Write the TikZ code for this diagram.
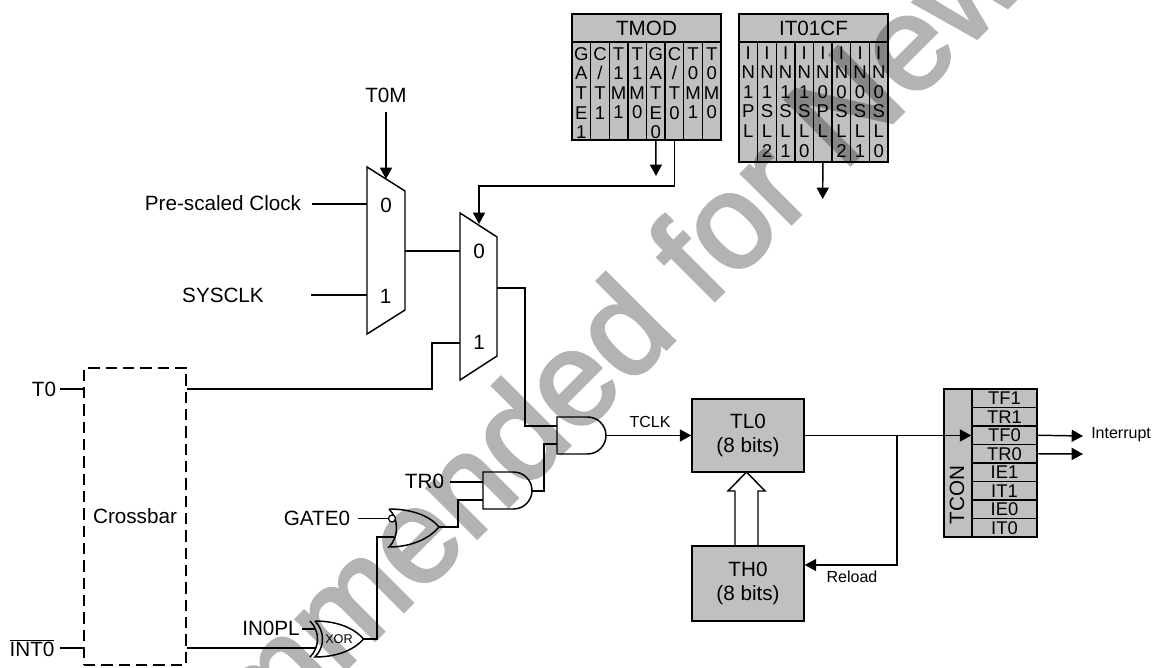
\documentclass[tikz,border=0pt]{standalone}
\usepackage{fontspec}
\setmainfont{Liberation Sans}
\newfontfamily\wmfont[RawFeature={embolden=2.5}]{Liberation Sans}
\usetikzlibrary{arrows.meta}
\definecolor{wmgray}{HTML}{B3B3B3}
\tikzset{
  x=0.75pt,y=-0.75pt,
  wire/.style={line width=1.1pt,line join=miter},
  arr/.style={wire,-{Triangle[length=8.5pt,width=9pt]}},
  lbl/.style={inner sep=0pt,font=\fontsize{15.5}{18}\selectfont},
  sm/.style={inner sep=0pt,font=\fontsize{12}{14}\selectfont},
  pxw/.style={minimum width=#1*0.75pt},
  pxh/.style={minimum height=#1*0.75pt},
  gbox/.style={draw,line width=1.1pt,fill=black,fill opacity=0.247,text opacity=1,inner sep=0pt,align=center,font=\fontsize{15.5}{18.4}\selectfont},
  regtxt/.style={inner sep=0pt,align=center,font=\fontsize{13.9}{14.7}\selectfont},
  tconrow/.style={gbox,pxw=65,pxh=18.5,font=\fontsize{13.8}{14}\selectfont},
  gate/.style={line width=1.1pt,line join=miter},
  watermark/.style={inner sep=0pt,text=wmgray,font=\wmfont\fontsize{100}{110}\selectfont}
}
\begin{document}
\begin{tikzpicture}
\useasboundingbox (0,0) rectangle (1152,667);

% Watermark (behind; the boxes are translucent so it shows through them)
\node[watermark,rotate=45,anchor=base west] (wm) at (41,974) {Recommended for New};

% TMOD
\node[gbox,pxw=149,pxh=28] (tmod) at (646.5,28) {TMOD};
\foreach \n/\t [count=\i] in {1/{G\\A\\T\\E\\1},2/{C\\/\\T\\1},3/{T\\1\\M\\1},4/{T\\1\\M\\0},5/{G\\A\\T\\E\\0},6/{C\\/\\T\\0},7/{T\\0\\M\\1},8/{T\\0\\M\\0}}{
  \node[gbox,pxw=18.625,pxh=98] (tm\n) at ({572+18.625*(\i-0.5)},91) {};
  \node[regtxt,anchor=north] (tmt\n) at ({572+18.625*(\i-0.5)},47) {\t};
}
% IT01CF
\node[gbox,pxw=149,pxh=28] (itcf) at (813.5,28) {IT01CF};
\foreach \n/\t [count=\i] in {1/{I\\N\\1\\P\\L},2/{I\\N\\1\\S\\L\\2},3/{I\\N\\1\\S\\L\\1},4/{I\\N\\1\\S\\L\\0},5/{I\\N\\0\\P\\L},6/{I\\N\\0\\S\\L\\2},7/{I\\N\\0\\S\\L\\1},8/{I\\N\\0\\S\\L\\0}}{
  \node[gbox,pxw=18.625,pxh=120] (it\n) at ({739+18.625*(\i-0.5)},102) {};
  \node[regtxt,anchor=north] (itt\n) at ({739+18.625*(\i-0.5)},46) {\t};
}
\coordinate (tmodarr) at (656,176);
\coordinate (itarr) at (822.7,199);
\draw[arr] (tm5.south) -- (tmodarr);
\draw[arr] (it5.south) -- (itarr);

% Mux 1
\draw[gate] (367,167) -- (405,191) -- (405,310) -- (367,334) -- cycle;
\coordinate (m1a) at (367,204);
\coordinate (m1b) at (367,295);
\coordinate (m1o) at (405,251);
\coordinate (m1s) at (386,179);
\node[lbl] (m1zero) at (386,205) {0};
\node[lbl] (m1one) at (385.5,296) {1};
\node[lbl] (t0m) at (386,95) {T0M};
\node[lbl] (pre) at (223,203) {Pre-scaled Clock};
\node[lbl] (sys) at (223,295) {SYSCLK};
\coordinate (preend) at (312,204);
\coordinate (sysend) at (311,295);
\coordinate (t0mend) at (386,112);
\draw[wire] (preend) -- (m1a);
\draw[wire] (sysend) -- (m1b);
\draw[arr] (t0mend) -- (m1s);

% Mux 2
\draw[gate] (460,213) -- (497,237) -- (497,356) -- (460,380) -- cycle;
\coordinate (m2a) at (460,251);
\coordinate (m2b) at (460,343);
\coordinate (m2o) at (497,288);
\coordinate (m2s) at (479,224);
\node[lbl] (m2zero) at (479,251) {0};
\node[lbl] (m2one) at (479,342) {1};
\draw[wire] (m1o) -- (m2a);
\coordinate (tmodbend) at (479,186);
\draw[arr] (tm6.south) |- (tmodbend) -- (m2s);

% Crossbar
\node[draw,dash pattern=on 8.5pt off 4.5pt,line width=1.6pt,pxw=102,pxh=297,inner sep=0pt,font=\fontsize{15.5}{18}\selectfont] (cb) at (135,516.5) {Crossbar};
\node[lbl] (t0) at (44,389) {T0};
\node[lbl] (int0) at (32,648) {$\overline{\mbox{INT0}}$};
\coordinate (t0end) at (60,389);
\coordinate (intend) at (60,648);
\draw[wire] (t0end) -- (t0end -| cb.west);
\draw[wire] (intend) -- (intend -| cb.west);
\coordinate (m2bend) at (432,343);
\draw[wire] (cb.east |- t0end) -| (m2bend) -- (m2b);

% XOR
\draw[gate] (315,621) .. controls (340,621) and (356,630) .. (363.5,639) .. controls (356,648) and (340,657) .. (315,657) .. controls (325,647) and (325,631) .. (315,621);
\draw[gate] (310,621) .. controls (320,631) and (320,647) .. (310,657);
\coordinate (xo) at (363.5,639);
\coordinate (xa) at (316,629);
\coordinate (xb) at (316,648);
\node[inner sep=0pt,font=\fontsize{9.5}{11}\selectfont] (xort) at (339,639) {XOR};
\node[lbl] (inpl) at (271,628) {IN0PL};
\coordinate (inplend) at (302,629);
\draw[wire] (inplend) -- (xa);
\draw[wire] (cb.east |- xb) -- (xb);

% OR (with inverting input)
\draw[gate] (389,509) .. controls (412,509) and (430,516) .. (439,527) .. controls (430,538) and (412,547) .. (389,547) .. controls (399,537) and (399,519) .. (389,509);
\coordinate (oo) at (439,527);
\coordinate (ob) at (394,537);
\node[circle,draw,line width=0.9pt,fill=white,inner sep=0pt,minimum size=5.2pt] (bub) at (392,518.5) {};
\node[lbl] (gate0) at (317,518) {GATE0};
\coordinate (gateend) at (358,518.5);
\draw[wire] (gateend) -- (bub.west);
\coordinate (xbend) at (377,537);
\draw[wire] (xo) -| (xbend) -- (ob);

% AND 1
\draw[gate] (483,472) -- (513.5,472) arc[start angle=-90,end angle=90,radius=18.5] -- (483,509) -- cycle;
\coordinate (a1a) at (483,482);
\coordinate (a1b) at (483,500);
\coordinate (a1o) at (532,491);
\node[lbl] (tr0) at (424.5,481.5) {TR0};
\coordinate (trend) at (450,482);
\draw[wire] (trend) -- (a1a);
\coordinate (obend) at (458,500);
\draw[wire] (oo) -| (obend) -- (a1b);

% AND 2
\draw[gate] (557,417) -- (587.5,417) arc[start angle=-90,end angle=90,radius=18.5] -- (557,454) -- cycle;
\coordinate (a2a) at (557,426);
\coordinate (a2b) at (557,444);
\coordinate (a2o) at (606,435.5);
\coordinate (a1bend) at (544,444);
\draw[wire] (a1o) -| (a1bend) -- (a2b);
\coordinate (m2bend2) at (525,426);
\draw[wire] (m2o) -| (m2bend2) -- (a2a);

% Counters
\node[gbox,pxw=112,pxh=73] (tl0) at (748,435.5) {TL0\\(8 bits)};
\node[gbox,pxw=112,pxh=75] (th0) at (748,583.5) {TH0\\(8 bits)};
\node[sm] (tclk) at (650,422) {TCLK};
\node[sm] (reload) at (852,577) {Reload};
\draw[arr] (a2o) -- (tl0.west |- a2o);
\draw[line width=1.1pt,line join=miter] (735,546) -- (735,491) -- (728,491) -- (746.5,472) -- (765,491) -- (758,491) -- (758,546);

% TCON
\node[gbox,pxw=28,pxh=148] (tcon) at (958,463) {};
\node[inner sep=0pt,font=\fontsize{15.5}{18}\selectfont,rotate=90] (tcont) at (957,495) {TCON};
\foreach \n/\t [count=\i] in {a/TF1,b/TR1,c/TF0,d/TR0,e/IE1,f/IT1,g/IE0,h/IT0}{
  \node[tconrow] (tc\n) at (1004.5,{389+18.5*(\i-0.5)}) {\t};
}
\coordinate (rel) at (897,435.5);
\coordinate (relb) at (897,565);
\draw[wire] (tl0.east |- a2o) -- (rel);
\draw[arr] (rel) -- (tcc.west |- rel);
\draw[arr] (rel) -- (relb) -- (th0.east |- relb);
\coordinate (intarr) at (1083,436);
\coordinate (trarr) at (1083,454);
\draw[arr] (tcc.east) -- (intarr);
\draw[arr] (tcd.east) -- (trarr);
\node[inner sep=0pt,anchor=west,font=\fontsize{12}{14}\selectfont] (intl) at (1091,435) {Interrupt};
\end{tikzpicture}
\end{document}
